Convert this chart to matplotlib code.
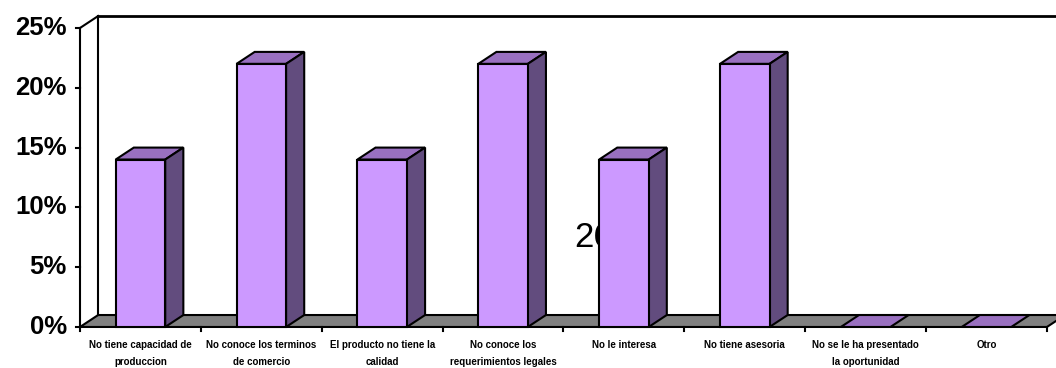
import matplotlib.pyplot as plt
from matplotlib.patches import Polygon, Rectangle

# respuestas y porcentajes
categorias = [
    ['No tiene capacidad de', 'produccion'],
    ['No conoce los terminos', 'de comercio'],
    ['El producto no tiene la', 'calidad'],
    ['No conoce los', 'requerimientos legales'],
    ['No le interesa', ''],
    ['No tiene asesoria', ''],
    ['No se le ha presentado', 'la oportunidad'],
    ['Otro', ''],
]
porcentajes = [14, 22, 14, 22, 14, 22, 0, 0]
ticks_y = [0, 5, 10, 15, 20, 25]

# profundidad del efecto 3D (en unidades de datos)
dx = 0.15
dy = 1.0
ancho = 0.41

frente = '#CC99FF'
arriba = '#9970C0'
lado = '#624C7E'

fig = plt.figure(figsize=(10.56, 3.68), dpi=100)
ax = fig.add_axes([0, 0, 1, 1])
ax.set_xlim(-0.662, 8.075)
ax.set_ylim(-3.43, 27.34)
ax.axis('off')

n = len(porcentajes)
lw = 1.5

# piso
ax.add_patch(Polygon([(0, 0), (n, 0), (n + dx, dy), (dx, dy)], closed=True,
                     facecolor='#808080', edgecolor='black', lw=lw, zorder=1))
# pared del fondo
ax.plot([dx, dx], [dy, 25 + dy], color='black', lw=lw, zorder=1)
ax.plot([dx, 9], [25 + dy, 25 + dy], color='black', lw=2, zorder=1)
# eje frontal
ax.plot([0, 0], [0, 25], color='black', lw=lw, zorder=1)
ax.plot([0, dx], [25, 25 + dy], color='black', lw=lw, zorder=1)
for t in ticks_y:
    ax.plot([-0.035, 0], [t, t], color='black', lw=lw, zorder=1)
    ax.text(-0.11, t, '%d%%' % t, ha='right', va='center', fontsize=18.5,
            fontweight='bold', family='Liberation Sans')
for i in range(n + 1):
    ax.plot([i, i], [0, -0.35], color='black', lw=lw, zorder=1)

ax.text(4.09, 7.48, '26', ha='left', va='center', fontsize=25,
        family='Liberation Sans', zorder=2)

# barras
for i, v in enumerate(porcentajes):
    c = i + 0.5
    x0 = c - ancho / 2
    x1 = c + ancho / 2
    ax.add_patch(Polygon([(x0, v), (x1, v), (x1 + dx, v + dy), (x0 + dx, v + dy)],
                         closed=True, facecolor=arriba, edgecolor='black', lw=lw, zorder=3))
    if v > 0:
        ax.add_patch(Polygon([(x1, 0), (x1 + dx, dy), (x1 + dx, v + dy), (x1, v)],
                             closed=True, facecolor=lado, edgecolor='black', lw=lw, zorder=3))
        ax.add_patch(Rectangle((x0, 0), ancho, v, facecolor=frente,
                               edgecolor='black', lw=lw, zorder=4))
    ax.text(c, -1.5, categorias[i][0], ha='center', va='center', fontsize=7,
            fontweight='bold', family='Liberation Sans')
    ax.text(c, -2.93, categorias[i][1], ha='center', va='center', fontsize=7,
            fontweight='bold', family='Liberation Sans')

fig.savefig('out.png', dpi=100)
